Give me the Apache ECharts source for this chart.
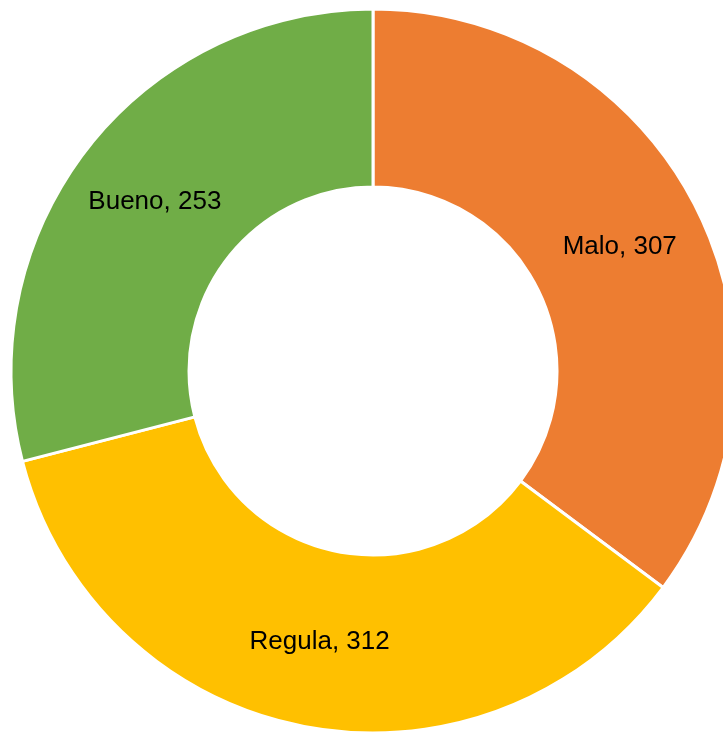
<!DOCTYPE html>
<html>
<head>
<meta charset="utf-8">
<script src="https://cdn.jsdelivr.net/npm/echarts@6/dist/echarts.min.js"></script>
<style>
  html, body { margin: 0; padding: 0; background: #ffffff; }
  #chart { width: 723px; height: 732px; }
</style>
</head>
<body>
<div id="chart"></div>
<script>
// Rating categories and counts
const categories = ['Malo', 'Regula', 'Bueno'];
const counts = [307, 312, 253];
const sliceColors = ['#ED7D31', '#FFC000', '#70AD47'];

const chart = echarts.init(document.getElementById('chart'), null, { renderer: 'canvas' });

chart.setOption({
  backgroundColor: '#ffffff',
  animation: false,
  series: [{
    type: 'pie',
    center: [373, 371],
    radius: [184, 362],
    startAngle: 90,
    clockwise: true,
    avoidLabelOverlap: false,
    itemStyle: { borderColor: '#ffffff', borderWidth: 3 },
    label: {
      show: true,
      position: 'inside',
      formatter: p => p.name + ', ' + p.value,
      color: '#000000',
      fontFamily: '"Liberation Sans", Arial, sans-serif',
      fontSize: 26
    },
    labelLine: { show: false },
    emphasis: { disabled: true },
    data: categories.map((name, i) => ({
      name: name,
      value: counts[i],
      itemStyle: { color: sliceColors[i] }
    }))
  }]
});
</script>
</body>
</html>
